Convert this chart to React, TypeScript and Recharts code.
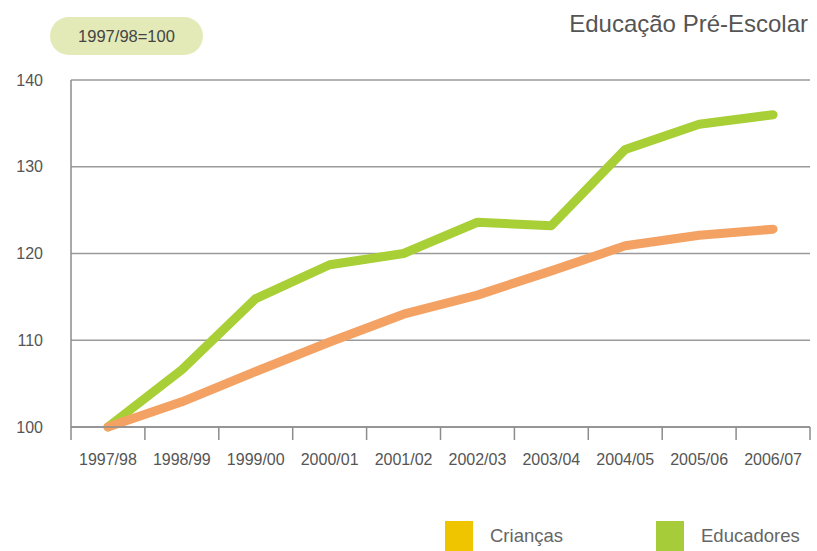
import { CartesianGrid, Legend, Line, LineChart, XAxis, YAxis } from 'recharts'

const years = [
  '1997/98',
  '1998/99',
  '1999/00',
  '2000/01',
  '2001/02',
  '2002/03',
  '2003/04',
  '2004/05',
  '2005/06',
  '2006/07',
]
const criancas = [100, 102.9, 106.4, 109.8, 113, 115.2, 118, 120.9, 122.1, 122.8]
const educadores = [100, 106.6, 114.8, 118.7, 120, 123.6, 123.2, 132, 134.9, 136]
const yTicks = [100, 110, 120, 130, 140]

const data = years.map((year, i) => ({
  year,
  criancas: criancas[i],
  educadores: educadores[i],
}))

const legendItems = [
  { label: 'Crianças', color: '#efc500' },
  { label: 'Educadores', color: '#a6cc3a' },
]

const FONT = '"Liberation Sans", Arial, sans-serif'
const CHART_W = 817
const CHART_H = 551
const MARGIN = { top: 80, right: 7, bottom: 84, left: 0 }
const X_AXIS_H = 40
const Y_AXIS_W = 71
const BAND = (CHART_W - MARGIN.right - MARGIN.left - Y_AXIS_W) / years.length

function YearTick(props: any) {
  const { x, y, payload, index } = props
  return (
    <g>
      {index === 0 && (
        <line x1={x - BAND / 2} x2={x - BAND / 2} y1={y} y2={y + 13} stroke="#8c8c8c" strokeWidth={1.5} />
      )}
      <line x1={x + BAND / 2} x2={x + BAND / 2} y1={y} y2={y + 13} stroke="#8c8c8c" strokeWidth={1.5} />
      <text x={x} y={y + 38} textAnchor="middle" fill="#555" fontSize={16} fontFamily={FONT}>
        {payload.value}
      </text>
    </g>
  )
}

function renderLegend() {
  return (
    <div style={{ position: 'relative', width: 360, height: 30, fontFamily: FONT }}>
      {legendItems.map((item, i) => (
        <div key={item.label} style={{ position: 'absolute', left: i * 211, top: 0, height: 30 }}>
          <div style={{ position: 'absolute', left: 0, top: 0, width: 28, height: 30, background: item.color }} />
          <div style={{ position: 'absolute', left: 45, top: 4, fontSize: 18.5, lineHeight: '22px', color: '#666', whiteSpace: 'nowrap' }}>
            {item.label}
          </div>
        </div>
      ))}
    </div>
  )
}

export default function App() {
  return (
    <div style={{ position: 'absolute', left: 0, top: 0, width: CHART_W, height: CHART_H, background: '#fff', overflow: 'hidden' }}>
      <div
        style={{
          position: 'absolute',
          left: 50,
          top: 17,
          width: 153,
          height: 38,
          borderRadius: 19,
          background: '#e3eab8',
          fontFamily: FONT,
          fontSize: 16.5,
          color: '#444',
          display: 'flex',
          alignItems: 'center',
          justifyContent: 'center',
          zIndex: 1,
        }}
      >
        1997/98=100
      </div>
      <div
        style={{
          position: 'absolute',
          right: 9,
          top: 10,
          fontFamily: FONT,
          fontSize: 24,
          color: '#555',
          zIndex: 1,
        }}
      >
        Educação Pré-Escolar
      </div>
      <LineChart width={CHART_W} height={CHART_H} data={data} margin={MARGIN}>
        <CartesianGrid vertical={false} stroke="#9a9a9a" strokeWidth={1.5} />
        <XAxis
          dataKey="year"
          height={X_AXIS_H}
          padding={{ left: BAND / 2, right: BAND / 2 }}
          axisLine={{ stroke: '#8c8c8c', strokeWidth: 1.5 }}
          tickLine={false}
          tickSize={0}
          tickMargin={0}
          interval={0}
          tick={<YearTick />}
        />
        <YAxis
          width={Y_AXIS_W}
          domain={[100, 140]}
          ticks={yTicks}
          axisLine={{ stroke: '#8c8c8c', strokeWidth: 1.5 }}
          tickLine={false}
          tickSize={0}
          tickMargin={28}
          tick={{ fill: '#555', fontSize: 16, fontFamily: FONT }}
        />
        <Legend
          layout="vertical"
          align="center"
          verticalAlign="middle"
          content={renderLegend}
          wrapperStyle={{ position: 'absolute', left: 445, top: 521, width: 360, height: 30 }}
        />
        <Line
          type="linear"
          dataKey="educadores"
          stroke="#a8cf35"
          strokeWidth={9}
          strokeLinecap="round"
          strokeLinejoin="round"
          dot={false}
          activeDot={false}
          isAnimationActive={false}
        />
        <Line
          type="linear"
          dataKey="criancas"
          stroke="#f4a264"
          strokeWidth={9}
          strokeLinecap="round"
          strokeLinejoin="round"
          dot={false}
          activeDot={false}
          isAnimationActive={false}
        />
      </LineChart>
    </div>
  )
}
